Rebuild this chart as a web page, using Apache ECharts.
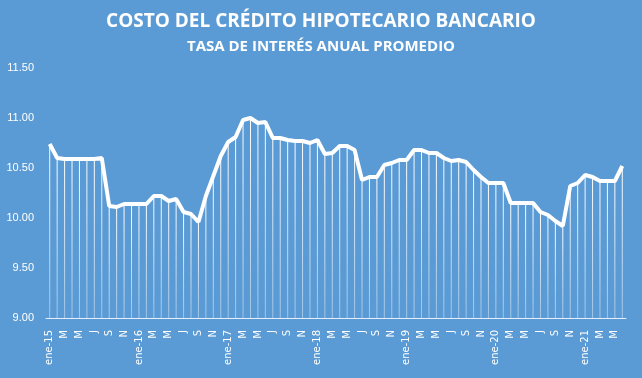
<!DOCTYPE html>
<html>
<head>
<meta charset="utf-8">
<script src="https://cdn.jsdelivr.net/npm/echarts@6/dist/echarts.min.js"></script>
<style>
  html, body { margin: 0; padding: 0; background: #5B9BD5; }
  #main { width: 642px; height: 378px; }
</style>
</head>
<body>
<div id="main"></div>
<script>
// months shown on the axis (only every other one is drawn)
var monthTags = ['ene', 'F', 'M', 'A', 'M', 'J', 'J', 'A', 'S', 'O', 'N', 'D'];
var years = ['15', '16', '17', '18', '19', '20', '21'];

// tasa de interes anual promedio, ene-15 .. jun-21
var rate2015 = [10.74, 10.60, 10.59, 10.59, 10.59, 10.59, 10.59, 10.60, 10.12, 10.11, 10.14, 10.14];
var rate2016 = [10.14, 10.14, 10.22, 10.22, 10.17, 10.19, 10.06, 10.04, 9.96, 10.22, 10.42, 10.62];
var rate2017 = [10.76, 10.81, 10.98, 11.00, 10.95, 10.96, 10.80, 10.80, 10.78, 10.77, 10.77, 10.75];
var rate2018 = [10.78, 10.64, 10.65, 10.72, 10.72, 10.68, 10.38, 10.41, 10.41, 10.53, 10.55, 10.58];
var rate2019 = [10.58, 10.68, 10.68, 10.65, 10.65, 10.60, 10.57, 10.58, 10.56, 10.48, 10.41, 10.35];
var rate2020 = [10.35, 10.35, 10.15, 10.15, 10.15, 10.15, 10.06, 10.03, 9.97, 9.92, 10.32, 10.35];
var rate2021 = [10.43, 10.41, 10.37, 10.37, 10.37, 10.52];

var rates = [].concat(rate2015, rate2016, rate2017, rate2018, rate2019, rate2020, rate2021);

var categories = [];
for (var i = 0; i < rates.length; i++) {
    var m = i % 12;
    var y = years[Math.floor(i / 12)];
    categories.push(m === 0 ? monthTags[0] + '-' + y : monthTags[m]);
}

var chart = echarts.init(document.getElementById('main'));
var option = {
    backgroundColor: '#5B9BD5',
    animation: false,
    title: {
        text: 'COSTO DEL CRÉDITO HIPOTECARIO BANCARIO',
        subtext: 'TASA DE INTERÉS ANUAL PROMEDIO',
        left: 'center',
        top: 7,
        itemGap: 8,
        textStyle: {
            color: '#ffffff',
            fontFamily: 'Open Sans',
            fontWeight: 'bold',
            fontSize: 19
        },
        subtextStyle: {
            color: '#ffffff',
            fontFamily: 'Open Sans',
            fontWeight: 'bold',
            fontSize: 15
        }
    },
    grid: {
        left: 46,
        right: 16,
        top: 68,
        bottom: 60
    },
    xAxis: {
        type: 'category',
        data: categories,
        boundaryGap: true,
        axisLine: { lineStyle: { color: '#E6EEF8', width: 1 } },
        axisTick: { show: false },
        axisLabel: {
            interval: 1,
            rotate: 90,
            margin: 12,
            color: '#ffffff',
            fontFamily: 'DejaVu Sans',
            fontSize: 10
        }
    },
    yAxis: {
        type: 'value',
        min: 9,
        max: 11.5,
        interval: 0.5,
        splitLine: { show: false },
        axisLine: { show: false },
        axisTick: { show: false },
        axisLabel: {
            margin: 12,
            color: '#ffffff',
            fontFamily: 'Liberation Sans',
            fontSize: 11,
            formatter: function (v) { return v.toFixed(2); }
        }
    },
    series: [
        {
            // drop lines
            type: 'bar',
            data: rates,
            barWidth: 1,
            clip: true,
            silent: true,
            itemStyle: {
                color: new echarts.graphic.LinearGradient(0, 0, 0, 1, [
                    { offset: 0, color: 'rgba(255,255,255,1)' },
                    { offset: 1, color: 'rgba(255,255,255,0.4)' }
                ])
            }
        },
        {
            type: 'line',
            data: rates,
            symbol: 'none',
            lineStyle: { color: '#ffffff', width: 4 },
            z: 5
        }
    ]
};
chart.setOption(option);
</script>
</body>
</html>
